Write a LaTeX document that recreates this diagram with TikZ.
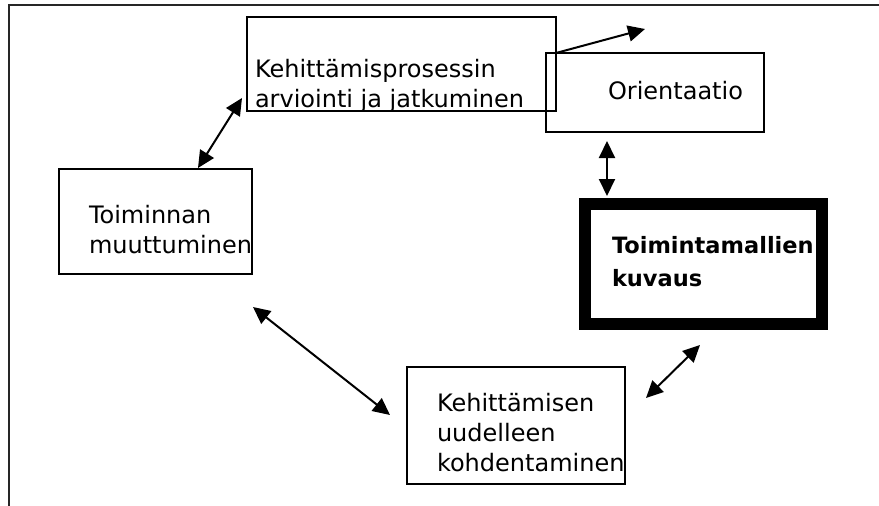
\documentclass[tikz,border=0pt]{standalone}
\usepackage{fontspec}
\setmainfont{DejaVu Sans}
\usetikzlibrary{arrows.meta,calc}
\begin{document}
\begin{tikzpicture}[x=1pt,y=-1pt,
  box/.style={draw=black, line width=1.4pt, rectangle, inner sep=0pt, outer sep=0pt, anchor=north west},
  heavybox/.style={draw=black, line width=12pt, rectangle, inner sep=0pt, outer sep=0pt, anchor=north west},
  % multi-line labels are placed by the baseline of their last line
  lbl/.style={anchor=base west, inner sep=0pt, outer sep=0pt, align=left, font=\fontsize{24pt}{30pt}\selectfont},
  lblbold/.style={lbl, font=\fontsize{22.5pt}{33pt}\selectfont\bfseries},
  link/.style={line width=2pt, {Triangle[length=17pt,width=16pt]}-{Triangle[length=17pt,width=16pt]}},
  onelink/.style={line width=2pt, -{Triangle[length=17pt,width=16pt]}},
  frameline/.style={line width=2pt, draw=black!85}
]
% page area
\fill[white] (0,0) rectangle (879,506);
\useasboundingbox (0,0) rectangle (879,506);

% open frame: top and left edges only
\draw[frameline] (879,5) -- (9,5) -- (9,506);

% boxes
\node[box, minimum width=309pt, minimum height=94pt] (kp) at (247,17) {};
\node[box, minimum width=218pt, minimum height=79pt] (ori) at (546,53) {};
\node[box, minimum width=193pt, minimum height=105pt] (tm) at (59,169) {};
\node[heavybox, minimum width=237pt, minimum height=120pt] (tk) at (584.5,204) {};
\node[box, minimum width=218pt, minimum height=117pt] (ku) at (407,367) {};

% texts
\node[lbl] (kptxt) at (255,107) {Kehittämisprosessin\\arviointi ja jatkuminen};
\node[lbl] (oritxt) at (608,99) {Orientaatio};
\node[lbl] (tmtxt) at (89,253) {Toiminnan\\muuttuminen};
\node[lblbold] (tktxt) at (612,286) {Toimintamallien\\kuvaus};
\node[lbl] (kutxt) at (437,471) {Kehittämisen\\uudelleen\\kohdentaminen};

% connectors
\coordinate (lead) at (645,29);
\draw[onelink] ($(ori.north west)+(10,0)$) -- (lead);
\draw[link] ($(kp.south west)+(-5,-13)$) -- ($(tm.north west)+(139,-1)$);
\draw[link] ($(ori.south west)+(61,9)$) -- ($(tk.north west)+(22.5,-8)$);
\draw[link] ($(tm.south east)+(1,33)$) -- ($(ku.north west)+(-17,48)$);
\draw[link] ($(ku.north east)+(21,31)$) -- ($(tk.south west)+(115.5,21)$);
\end{tikzpicture}
\end{document}
